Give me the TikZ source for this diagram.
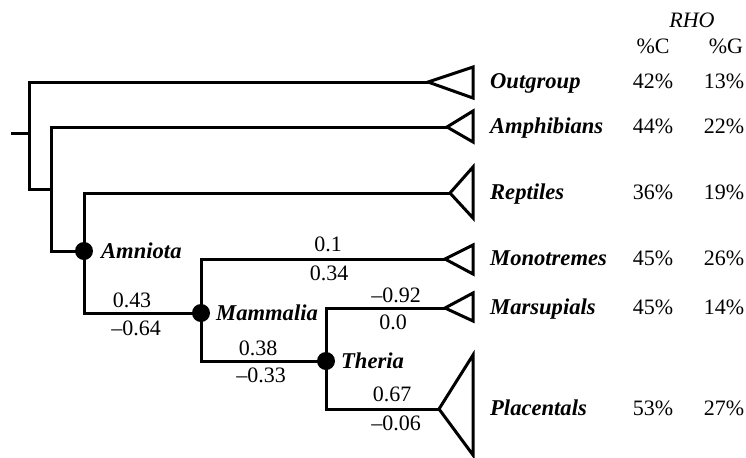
\documentclass[tikz,border=0pt]{standalone}
\usepackage{tikz}
\usepackage{fontspec}
\setmainfont{Liberation Serif}

\begin{document}
\begin{tikzpicture}[x=0.5pt, y=-0.5pt, line width=1.5pt,
		font=\fontsize{11}{13}\selectfont,
		dot/.style={circle, fill=black, inner sep=0pt, minimum size=9pt},
		taxon/.style={anchor=base west, font=\fontsize{11.3}{13}\selectfont\bfseries\itshape},
		cladename/.style={anchor=west, font=\fontsize{11.3}{13}\selectfont\bfseries\itshape},
		pct/.style={anchor=base},
		brlen/.style={anchor=center}]
		\useasboundingbox (0,0) rectangle (746,457);

		% junctions
		\coordinate (stub) at (12,133);
		\coordinate (root) at (29,133);
		\coordinate (tetrapoda) at (51,189);
		\coordinate (amniota) at (84,251);
		\coordinate (mammalia) at (201,313);
		\coordinate (theria) at (326,361);

		% tips of the clades
		\coordinate (outtip) at (428,82);
		\coordinate (amphtip) at (447,127);
		\coordinate (reptip) at (450,193);
		\coordinate (monotip) at (445,259);
		\coordinate (marstip) at (445,308);
		\coordinate (plactip) at (439,409);

		\draw [line cap=rect] (stub) -- (root);
		\draw (outtip) -| (root) |- (tetrapoda);
		\draw (amphtip) -| (tetrapoda) |- (amniota);
		\draw (reptip) -| (amniota) |- (mammalia);
		\draw (monotip) -| (mammalia) |- (theria);
		\draw (marstip) -| (theria) |- (plactip);

		\draw (outtip) -- (473,67) -- (473,98) -- cycle;
		\draw (amphtip) -- (473,111) -- (473,142) -- cycle;
		\draw (reptip) -- (473,167) -- (473,218) -- cycle;
		\draw (monotip) -- (473,245) -- (473,274) -- cycle;
		\draw (marstip) -- (473,293) -- (473,321) -- cycle;
		\draw (plactip) -- (473,355) -- (473,455) -- cycle;

		\node [dot] (amniotadot) at (amniota) {};
		\node [dot] (mammaliadot) at (mammalia) {};
		\node [dot] (theriadot) at (theria) {};

		\node [cladename] (amniotaname) at (93,251) {Amniota};
		\node [cladename] (mammalianame) at (208,313) {Mammalia};
		\node [cladename] (therianame) at (333,361) {Theria};

		% branch values
		\node [brlen] (mono1) at (328,244) {0.1};
		\node [brlen] (mono2) at (329,273) {0.34};
		\node [brlen] (mars1) at (396,295) {--0.92};
		\node [brlen] (mars2) at (393,322) {0.0};
		\node [brlen] (ther1) at (258,348) {0.38};
		\node [brlen] (ther2) at (261,375) {--0.33};
		\node [brlen] (plac1) at (392,394) {0.67};
		\node [brlen] (plac2) at (396,423) {--0.06};
		\node [brlen] (mamm1) at (132,300) {0.43};
		\node [brlen] (mamm2) at (136,328) {--0.64};

		% taxa and RHO columns
		\node [pct] (rho) at (692,27) {\itshape RHO};
		\node [pct] (colc) at (653,53) {\%C};
		\node [pct] (colg) at (726,53) {\%G};

		\node [taxon] (outgroup) at (482,88) {Outgroup};
		\node [taxon] (amphibians) at (482,133) {Amphibians};
		\node [taxon] (reptiles) at (482,199) {Reptiles};
		\node [taxon] (monotremes) at (482,265) {Monotremes};
		\node [taxon] (marsupials) at (482,314) {Marsupials};
		\node [taxon] (placentals) at (482,415) {Placentals};

		\node [pct] at (653,88) {42\%};  \node [pct] at (724,88) {13\%};
		\node [pct] at (653,133) {44\%}; \node [pct] at (724,133) {22\%};
		\node [pct] at (653,199) {36\%}; \node [pct] at (724,199) {19\%};
		\node [pct] at (653,265) {45\%}; \node [pct] at (724,265) {26\%};
		\node [pct] at (653,314) {45\%}; \node [pct] at (724,314) {14\%};
		\node [pct] at (653,415) {53\%}; \node [pct] at (724,415) {27\%};
	\end{tikzpicture}
\end{document}
